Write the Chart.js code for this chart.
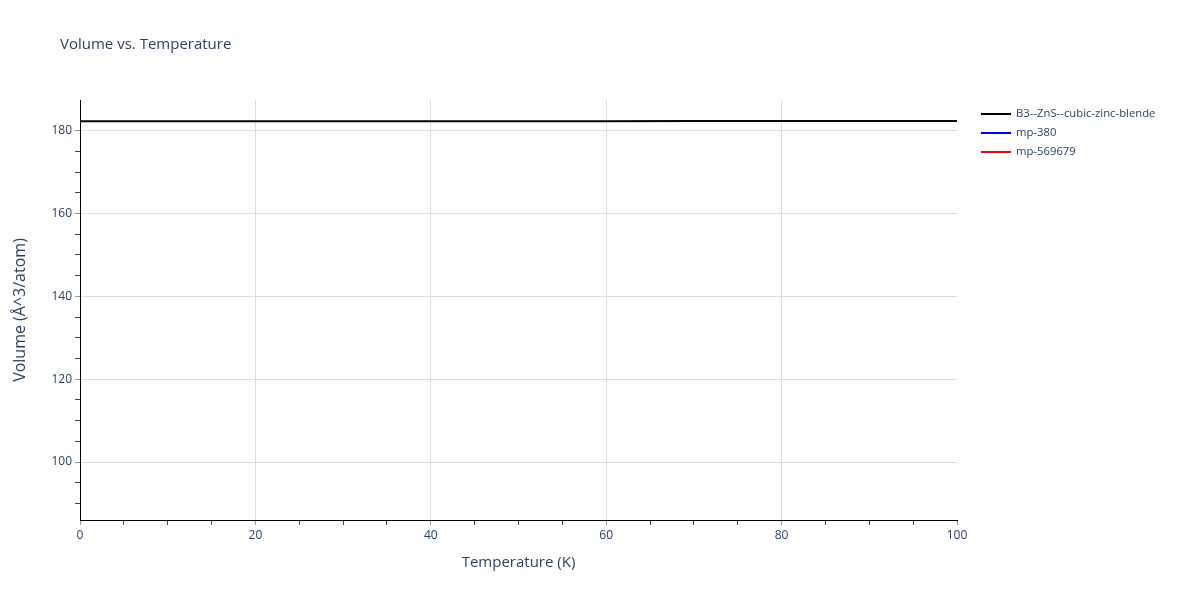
<!DOCTYPE html>
<html>
<head>
<meta charset="utf-8">
<script src="https://cdn.jsdelivr.net/npm/chart.js@4"></script>
<style>
	html, body { margin: 0; background: #fff; }
	#wrap { position: relative; width: 1200px; height: 600px; }
</style>
</head>
<body>
<div id="wrap"><canvas id="volume-chart"></canvas></div>
<script>
var temperature = [ 0, 10, 20, 30, 40, 50, 60, 70, 80, 90, 100 ];
var volumeB3 = [ 182.25, 182.25, 182.26, 182.26, 182.27, 182.28, 182.29, 182.3, 182.31, 182.32, 182.33 ];
var volumeMp380 = [];
var volumeMp569679 = [];
var seriesNames = [ 'B3--ZnS--cubic-zinc-blende', 'mp-380', 'mp-569679' ];
var seriesColors = [ '#000000', '#0000ff', '#ff0000' ];

( function () {
	'use strict';

	var ink = '#2a3f5f';
	var font = '"Open Sans", "DejaVu Sans", sans-serif';

	function points( ys ) {
		return ys.map( function ( y, i ) { return { x: temperature[ i ], y: y }; } );
	}

	var allSeries = [ volumeB3, volumeMp380, volumeMp569679 ];
	var datasets = allSeries.map( function ( ys, i ) {
		return {
			label: seriesNames[ i ],
			data: points( ys ),
			borderColor: seriesColors[ i ],
			backgroundColor: seriesColors[ i ],
			borderWidth: 2,
			pointRadius: 0,
			fill: false,
			tension: 0,
			order: i === 0 ? 0 : 1,
		};
	} );

	function isMajor( v ) { return Math.abs( v % 20 ) < 1e-9; }

	var extras = {
		id: 'extras',
		afterDraw: function ( chart ) {
			var ctx = chart.ctx;
			var area = chart.chartArea;
			ctx.save();
			ctx.fillStyle = ink;
			ctx.textBaseline = 'middle';

			ctx.font = '15px ' + font;
			ctx.textAlign = 'left';
			ctx.fillText( 'Volume vs. Temperature', 60, 45 );

			ctx.font = '15px ' + font;
			ctx.textAlign = 'center';
			ctx.fillText( 'Temperature (K)', ( area.left + area.right ) / 2, 563 );

			ctx.save();
			ctx.translate( 20, ( area.top + area.bottom ) / 2 );
			ctx.rotate( -Math.PI / 2 );
			ctx.font = '16px ' + font;
			ctx.fillText( 'Volume (Å^3/atom)', 0, 0 );
			ctx.restore();

			// legend
			ctx.font = '11.3px ' + font;
			ctx.textAlign = 'left';
			chart.data.datasets.forEach( function ( ds, i ) {
				var y = 114 + i * 19;
				ctx.strokeStyle = ds.borderColor;
				ctx.lineWidth = 2;
				ctx.beginPath();
				ctx.moveTo( 981, y );
				ctx.lineTo( 1011, y );
				ctx.stroke();
				ctx.fillStyle = ink;
				ctx.fillText( ds.label, 1016, y );
			} );
			ctx.restore();
		},
	};

	new Chart( document.getElementById( 'volume-chart' ).getContext( '2d' ), {
		type: 'line',
		data: { datasets: datasets },
		plugins: [ extras ],
		options: {
			responsive: true,
			maintainAspectRatio: false,
			animation: false,
			layout: { padding: { top: 100, right: 243, left: 0, bottom: 0 } },
			plugins: {
				legend: { display: false },
				tooltip: { enabled: false },
			},
			scales: {
				x: {
					type: 'linear',
					min: 0,
					max: 100,
					afterFit: function ( scale ) { scale.height = 80; },
					ticks: {
						stepSize: 5,
						autoSkip: false,
						maxRotation: 0,
						padding: 3,
						color: ink,
						font: { family: font, size: 12 },
						callback: function ( v ) { return isMajor( v ) ? v : ''; },
					},
					grid: {
						tickLength: 5,
						color: function ( c ) {
							var v = c.tick ? c.tick.value : -1;
							return ( isMajor( v ) && v !== 0 && v !== 100 ) ? '#dddddd' : 'rgba(0,0,0,0)';
						},
						tickColor: function ( c ) {
							return c.tick && isMajor( c.tick.value ) ? '#999999' : '#444444';
						},
					},
					border: { display: true, color: '#000000', width: 1 },
				},
				y: {
					min: 86,
					max: 187.4,
					afterFit: function ( scale ) { scale.width = 80; },
					afterBuildTicks: function ( scale ) {
						scale.ticks = scale.ticks.filter( function ( t ) { return Math.abs( t.value % 5 ) < 1e-9; } );
					},
					ticks: {
						stepSize: 5,
						autoSkip: false,
						padding: 3,
						color: ink,
						font: { family: font, size: 12 },
						callback: function ( v ) { return isMajor( v ) ? v : ''; },
					},
					grid: {
						tickLength: 5,
						color: function ( c ) {
							return c.tick && isMajor( c.tick.value ) ? '#dddddd' : 'rgba(0,0,0,0)';
						},
						tickColor: function ( c ) {
							return c.tick && isMajor( c.tick.value ) ? '#999999' : '#444444';
						},
					},
					border: { display: true, color: '#000000', width: 1 },
				},
			},
		},
	} );
} )();
</script>
</body>
</html>
